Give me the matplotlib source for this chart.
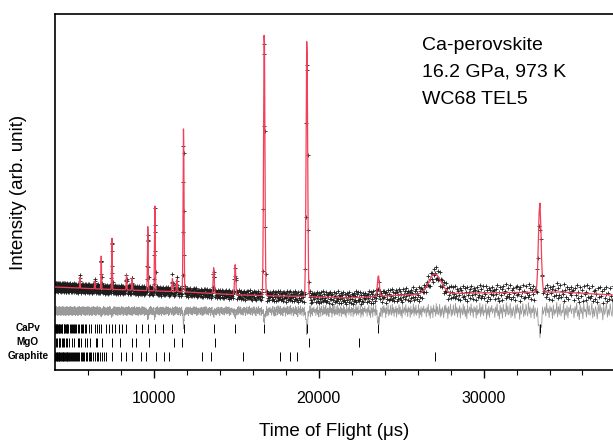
import numpy as np
import matplotlib
matplotlib.use("Agg")
import matplotlib.pyplot as plt
import matplotlib.transforms as mtransforms

# ---------------- data ----------------
# background knots: TOF (us), intensity (arb.)
bg_t = [4000, 6750, 12000, 15240, 20090, 21900, 24940, 29180, 34640, 37850]
bg_i = [83, 81, 78, 75, 73, 72, 75, 77, 78, 75]

# peaks: TOF position, calculated height above background, obs - calc misfit at peak
peak_t = [5530, 6430, 6820, 7471, 8353, 8694, 9645, 10074, 11137, 11410,
          11812, 13640, 14941, 16705, 19289, 23624, 33410]
peak_h = [11, 8, 33, 52, 15, 12, 64, 85, 13, 12,
          165, 26, 30, 270, 262, 21, 90]
peak_d = [0, 0, -3, -4, 0, 0, -6, -5, 0, 0,
          -15, -4, -4, -11, -20, -12, -21]
# broad graphite (002) bump
bump_t = 27050
bump_h = 20
bump_w = 380

# residual scatter pattern and its amplitude along TOF
noise = [0.3, -0.8, 0.5, -0.2, 0.9, -0.6, 0.1, -1.0, 0.7, -0.3, 0.4, -0.9, 0.8, -0.1,
         0.2, -0.7, 1.0, -0.4, 0.6, -0.5, -0.2, 0.9, -0.8, 0.3, -0.6, 0.5, 0.0, -0.9,
         0.7, -0.3, 0.8, -0.2, 0.4, -1.0, 0.6, -0.4, 0.1, 0.9, -0.7, 0.2, -0.5, 0.8,
         -0.1, -0.6, 1.0, -0.3, 0.5, -0.8, 0.3, -0.2, 0.7, -0.9, 0.4, 0.0, -0.5, 0.9,
         -0.4, 0.6, -0.7, 0.2, -1.0, 0.8, -0.3, 0.1, 0.5, -0.6, 0.9, -0.2, 0.3, -0.8,
         0.6, -0.1, 0.4, -0.9, 0.7, -0.5, 0.2, -0.3, 1.0, -0.7, 0.5, -0.4, 0.8, -0.6,
         0.1, -0.2, 0.9, -1.0, 0.3, -0.5, 0.6, -0.8, 0.4, -0.1, 0.7, -0.3, 0.2]
amp_t = [4000, 15000, 20000, 30000, 37850]
amp_v = [4.5, 4.5, 6.0, 8.0, 9.0]

# reflection tick positions (TOF, us)
capv_ticks = [33410, 23624, 19289, 16705, 14941, 13640, 11812, 11137, 10565, 10074,
              9645, 9266, 8929, 8353, 8103, 7875, 7665, 7471, 7291, 7123, 6820, 6682,
              6552, 6430, 6204, 6100, 5906, 5816, 5730, 5647, 5568, 5493, 5420, 5283,
              5218, 5155, 5095, 5037, 4980, 4926, 4822, 4773, 4725, 4678, 4633, 4589,
              4547, 4465, 4425, 4387, 4350, 4278, 4243, 4176, 4144, 4112, 4082, 4052, 4022]
mgo_ticks = [22448, 19441, 13746, 11723, 11224, 9720, 8920, 8694, 7937, 7483, 6873,
             6572, 6480, 6148, 5929, 5862, 5612, 5444, 5392, 5196, 5062, 4860, 4750,
             4715, 4582, 4490, 4460, 4347, 4268, 4242, 4145, 4076]
graphite_ticks = [4020, 4070, 4110, 4160, 4200, 4250, 4290, 4340, 4380, 4430, 4480,
                  4520, 4570, 4610, 4660, 4720, 4770, 4830, 4880, 4940, 5000, 5060,
                  5110, 5170, 5240, 5300, 5370, 5430, 5500, 5570, 5650, 5720, 5800,
                  5880, 5960, 6050, 6140, 6230, 6330, 6430, 6540, 6650, 6770, 6890,
                  7010, 7100, 7473, 8018, 8321, 8685, 9230, 9533, 10139, 10624, 10927,
                  12927, 13472, 15411, 17654, 18260, 18684, 27048]
phase_names = ["CaPv", "MgO", "Graphite"]
phase_rows = [42, 28, 14]
diff_offset = 59

# ---------------- build profiles ----------------
t = np.geomspace(4000, 37850, 1500)
bg = np.interp(t, bg_t, bg_i)
calc = bg.copy()
mis = np.zeros_like(t)
for p, h, d in zip(peak_t, peak_h, peak_d):
    s = 0.0024 * p
    g = np.exp(-0.5 * ((t - p) / s) ** 2)
    calc += h * g
    mis += d * g
calc += bump_h * np.exp(-0.5 * ((t - bump_t) / bump_w) ** 2)
amp = np.interp(t, amp_t, amp_v)
nz = np.array([noise[i % len(noise)] for i in range(len(t))])
resid = amp * nz + mis
obs = calc + resid
diff = resid + diff_offset

# ---------------- plot ----------------
fig = plt.figure(figsize=(6.13, 4.44), dpi=100)
ax = fig.add_axes([54.7 / 613, 1 - 370 / 444, 1 - 54.7 / 613, (370 - 14) / 444])

ax.plot(t, obs, linestyle="none", marker="+", markersize=2.6, mew=0.6,
        color="#1c1c1c", zorder=2)
ax.plot(t, calc, color="#f2405a", lw=0.9, zorder=3)
ax.plot(t, diff, color="#9a9a9a", lw=0.6, zorder=2)

for ticks, yrow in zip([capv_ticks, mgo_ticks, graphite_ticks], phase_rows):
    ax.vlines(ticks, yrow - 4.5, yrow + 4.5, color="black", lw=0.7)

trans = mtransforms.blended_transform_factory(ax.transAxes, ax.transData)
for name, yrow in zip(phase_names, phase_rows):
    ax.text(-0.048, yrow, name, transform=trans, ha="center", va="center",
            fontsize=7.2, fontweight="bold", family="Liberation Sans")

ax.set_xlim(4000, 37850)
ax.set_ylim(0, 356)
ax.set_yticks([])
ax.set_xticks([10000, 20000, 30000])
ax.set_xticks(np.arange(6000, 37850, 2000), minor=True)
ax.tick_params(axis="x", which="major", direction="out", length=6, width=1,
               labelsize=11.5, pad=9)
ax.tick_params(axis="x", which="minor", direction="out", length=3.5, width=0.8)
for lab in ax.get_xticklabels():
    lab.set_family("Liberation Sans")
ax.spines["right"].set_visible(False)
for sp in ["left", "top", "bottom"]:
    ax.spines[sp].set_linewidth(1.2)

ax.set_xlabel("Time of Flight (μs)", fontsize=13.5, family="Liberation Sans", labelpad=12)
ax.set_ylabel("Intensity (arb. unit)", fontsize=13.5, family="Liberation Sans", labelpad=20)

ax.text(0.658, 0.935, "Ca-perovskite\n16.2 GPa, 973 K\nWC68 TEL5", transform=ax.transAxes,
        ha="left", va="top", fontsize=14, family="Liberation Sans", linespacing=1.75)

fig.savefig("out.png", dpi=100)
